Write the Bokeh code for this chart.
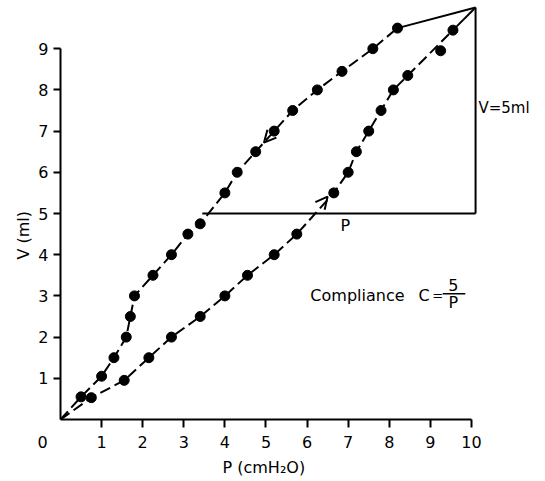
from bokeh.plotting import figure
from bokeh.models import Range1d, FixedTicker, Label, Arrow, OpenHead, Title
from bokeh.embed import file_html
from bokeh.resources import INLINE

# Deflation limb (upper curve), P in cmH2O, V in ml
defl_p = [0.5, 1.0, 1.3, 1.6, 1.7, 1.8, 2.25, 2.7, 3.1, 3.4, 4.0, 4.3, 4.75, 5.2, 5.65, 6.25, 6.85, 7.6, 8.2]
defl_v = [0.55, 1.05, 1.5, 2.0, 2.5, 3.0, 3.5, 4.0, 4.5, 4.75, 5.5, 6.0, 6.5, 7.0, 7.5, 8.0, 8.45, 9.0, 9.5]

# Inflation limb (lower curve)
infl_p = [0.75, 1.55, 2.15, 2.7, 3.4, 4.0, 4.55, 5.2, 5.75, 6.65, 7.0, 7.2, 7.5, 7.8, 8.1, 8.45, 9.55]
infl_v = [0.53, 0.95, 1.5, 2.0, 2.5, 3.0, 3.5, 4.0, 4.5, 5.5, 6.0, 6.5, 7.0, 7.5, 8.0, 8.35, 9.45]

# stray measured point beside the inflation limb
stray_p = [9.25]
stray_v = [8.95]

origin = (0.0, 0.0)
peak = (10.1, 10.0)
box_v = 5.0          # V = 5 ml reference level
box_p_start = 3.45   # where the deflation limb crosses 5 ml

x_labels = [0, 1, 2, 3, 4, 5, 6, 7, 8, 9, 10]
x_ticks = [1, 2, 3, 4, 5, 6, 7, 8, 9, 10]
y_ticks = [1, 2, 3, 4, 5, 6, 7, 8, 9]

FONT = "DejaVu Sans"
FS = "16px"

p = figure(width=545, height=481, output_backend="svg", toolbar_location=None,
           x_range=Range1d(0, 11.68), y_range=Range1d(0, 10.17),
           min_border_left=60, min_border_right=5, min_border_top=0, min_border_bottom=62)
p.outline_line_color = None
p.xgrid.visible = False
p.ygrid.visible = False
p.background_fill_color = "white"
p.border_fill_color = "white"

for ax in (p.xaxis, p.yaxis):
    ax.axis_line_width = 2
    ax.axis_line_color = "black"
    ax.major_tick_line_width = 2
    ax.major_tick_line_color = "black"
    ax.major_tick_in = 0
    ax.minor_tick_in = 0
    ax.major_label_text_font = FONT
    ax.major_label_text_font_size = FS
    ax.major_label_text_color = "black"

# x axis: labels at 0..10 (the shared origin "0" sits left of the corner), tick marks at 1..10
p.xaxis.ticker = FixedTicker(ticks=x_labels, minor_ticks=x_ticks)
p.xaxis.bounds = (0, 10)
p.xaxis.major_tick_out = 0
p.xaxis.minor_tick_out = 8
p.xaxis.minor_tick_line_width = 2
p.xaxis.minor_tick_line_color = "black"
p.xaxis.major_label_standoff = 5
p.xaxis.major_label_overrides = {0: "0" + "\u00a0" * 7}

p.yaxis.ticker = FixedTicker(ticks=y_ticks)
p.yaxis.bounds = (0, 9)
p.yaxis.major_tick_out = 7
p.yaxis.minor_tick_line_color = None
p.yaxis.major_label_standoff = 5

p.add_layout(Title(text="P (cmH₂O)", align="left", offset=162, text_font=FONT,
                   text_font_size=FS, text_font_style="normal", text_color="black", standoff=2), "below")
p.add_layout(Title(text="V (ml)", align="left", offset=160, text_font=FONT,
                   text_font_size=FS, text_font_style="normal", text_color="black", standoff=6), "left")

# curves
up_x = [origin[0]] + defl_p
up_y = [origin[1]] + defl_v
lo_x = [origin[0]] + infl_p
lo_y = [origin[1]] + infl_v
p.line(up_x, up_y, line_color="black", line_width=2, line_dash="11 5")
p.line(lo_x, lo_y, line_color="black", line_width=2, line_dash="11 5")
p.line([defl_p[-1], peak[0]], [defl_v[-1], peak[1]], line_color="black", line_width=2)
p.line([infl_p[-1], peak[0]], [infl_v[-1], peak[1]], line_color="black", line_width=2)

# markers
p.scatter(defl_p, defl_v, size=10, color="black")
p.scatter(infl_p, infl_v, size=10, color="black")
p.scatter(stray_p, stray_v, size=10, color="black")

# compliance triangle
p.segment(x0=[box_p_start, peak[0]], y0=[box_v, box_v], x1=[peak[0], peak[0]], y1=[box_v, peak[1]],
          line_color="black", line_width=2)

# direction arrows
p.add_layout(Arrow(end=OpenHead(size=12, line_width=2, line_color="black"),
                   x_start=defl_p[13], y_start=defl_v[13], x_end=4.95, y_end=6.72, line_alpha=0))
p.add_layout(Arrow(end=OpenHead(size=12, line_width=2, line_color="black"),
                   x_start=infl_p[8], y_start=infl_v[8], x_end=6.5, y_end=5.41, line_alpha=0))

def lab(x, y, t, align="center", size=FS):
    p.add_layout(Label(x=x, y=y, text=t, text_font=FONT, text_font_size=size, text_color="black",
                       text_align=align, text_baseline="middle"))

lab(10.17, 7.55, "V=5ml", align="left", size="15px")
lab(6.93, 4.72, "P")
lab(6.08, 3.0, "Compliance", align="left")
lab(8.85, 3.0, "C")
lab(9.18, 3.0, "=", size="13px")
lab(9.56, 3.27, "5")
lab(9.56, 2.85, "P")
p.segment(x0=[9.3], y0=[3.05], x1=[9.85], y1=[3.05], line_color="black", line_width=1.5)

open("out.html", "w").write(file_html(p, INLINE))
